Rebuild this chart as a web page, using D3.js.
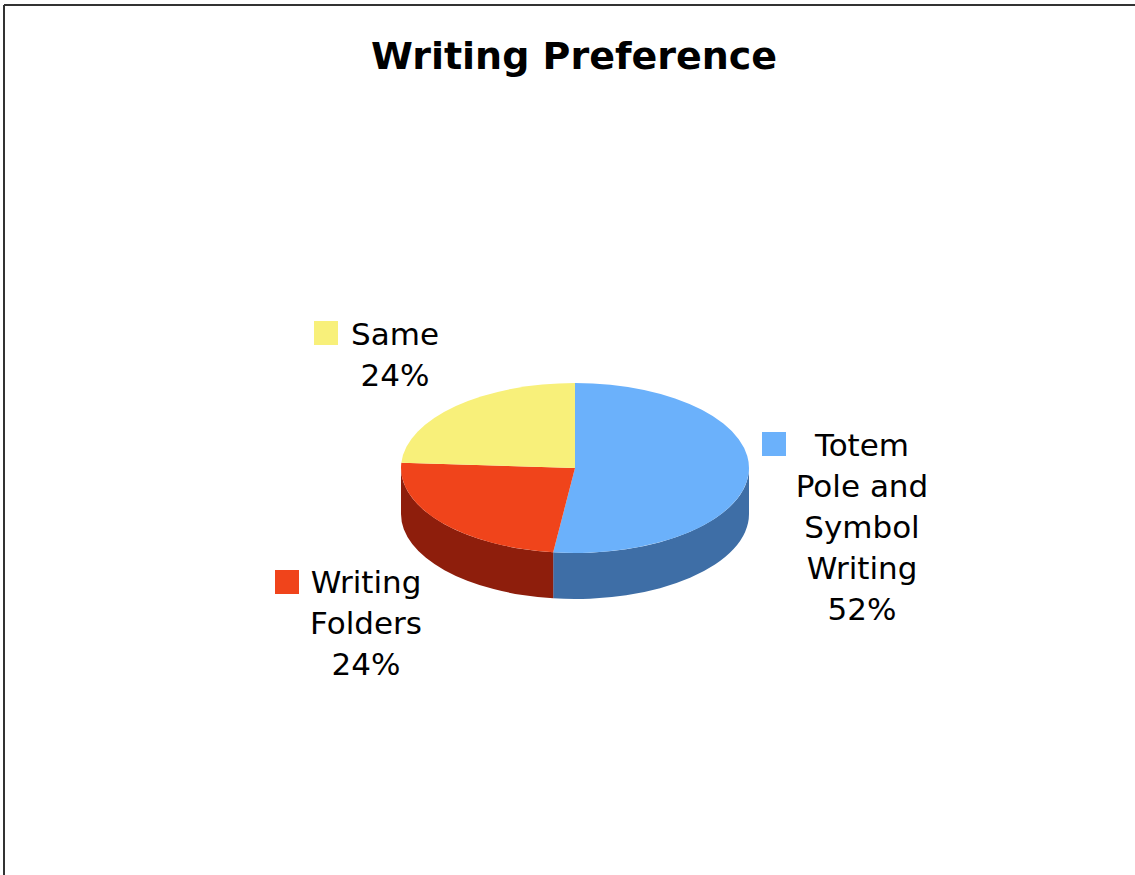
<!DOCTYPE html>
<html>
<head>
<meta charset="utf-8">
<script src="https://cdn.jsdelivr.net/npm/d3@7"></script>
<style>
  html, body { margin: 0; padding: 0; background: #fff; }
  svg { display: block; }
  text { font-family: "DejaVu Sans", Verdana, sans-serif; fill: #000; }
</style>
</head>
<body>
<svg id="chart" width="1135" height="875"></svg>
<script>
// ---- data ----
const categories = ["Totem Pole and Symbol Writing", "Writing Folders", "Same"];
const values = [52, 24, 24];
const labelLines = [
  ["Totem", "Pole and", "Symbol", "Writing"],
  ["Writing", "Folders"],
  ["Same"]
];
const topColors = ["#6BB1FB", "#F0441B", "#F8F07A"];
const sideColors = ["#3E6EA6", "#8E1E0C", "#B8B050"];
const title = "Writing Preference";

// ---- layout ----
const W = 1135, H = 875;
const svg = d3.select("#chart");
const cx = 575, cy = 468, rx = 174, ry = 85, depth = 46;

// frame (top and left edges visible)
svg.append("line").attr("x1", 4).attr("y1", 5).attr("x2", W).attr("y2", 5)
  .attr("stroke", "#333").attr("stroke-width", 2);
svg.append("line").attr("x1", 4).attr("y1", 5).attr("x2", 4).attr("y2", H)
  .attr("stroke", "#333").attr("stroke-width", 2);

svg.append("text").attr("x", 574).attr("y", 69).attr("text-anchor", "middle")
  .style("font-size", "38px").style("font-weight", "bold").text(title);

const pie = d3.pie().sort(null).value(d => d.v).startAngle(0).endAngle(2 * Math.PI);
const arcs = pie(values.map((v, i) => ({ v, i })));

function pt(a, dy) {
  return [cx + rx * Math.sin(a), cy - ry * Math.cos(a) + dy];
}

// sides (front half only: angles PI/2 .. 3PI/2)
const g = svg.append("g");
arcs.forEach(d => {
  const s = Math.max(d.startAngle, Math.PI / 2);
  const e = Math.min(d.endAngle, 3 * Math.PI / 2);
  if (e <= s) return;
  const p0 = pt(s, 0), p1 = pt(e, 0), p2 = pt(e, depth), p3 = pt(s, depth);
  const large = (e - s) > Math.PI ? 1 : 0;
  const path = `M${p0[0]},${p0[1]} A${rx},${ry} 0 ${large} 1 ${p1[0]},${p1[1]} ` +
    `L${p2[0]},${p2[1]} A${rx},${ry} 0 ${large} 0 ${p3[0]},${p3[1]} Z`;
  g.append("path").attr("d", path).attr("fill", sideColors[d.data.i]);
});

// tops
arcs.forEach(d => {
  const p0 = pt(d.startAngle, 0), p1 = pt(d.endAngle, 0);
  const large = (d.endAngle - d.startAngle) > Math.PI ? 1 : 0;
  const path = `M${cx},${cy} L${p0[0]},${p0[1]} A${rx},${ry} 0 ${large} 1 ${p1[0]},${p1[1]} Z`;
  g.append("path").attr("d", path).attr("fill", topColors[d.data.i]);
});

// labels
const labelPos = [
  { x: 862, y: 456, key: [762, 432] },
  { x: 366, y: 593, key: [275, 570] },
  { x: 395, y: 345, key: [314, 321] }
];
const fmt = d3.format(".0%");
const total = d3.sum(values);
const lineH = 41;
arcs.forEach(d => {
  const i = d.data.i, lp = labelPos[i];
  const lines = labelLines[i].concat([fmt(values[i] / total)]);
  svg.append("rect").attr("x", lp.key[0]).attr("y", lp.key[1])
    .attr("width", 24).attr("height", 24).attr("fill", topColors[i]);
  const t = svg.append("text").attr("text-anchor", "middle").style("font-size", "31px");
  lines.forEach((l, k) => {
    t.append("tspan").attr("x", lp.x).attr("y", lp.y + k * lineH).text(l);
  });
});
</script>
</body>
</html>
